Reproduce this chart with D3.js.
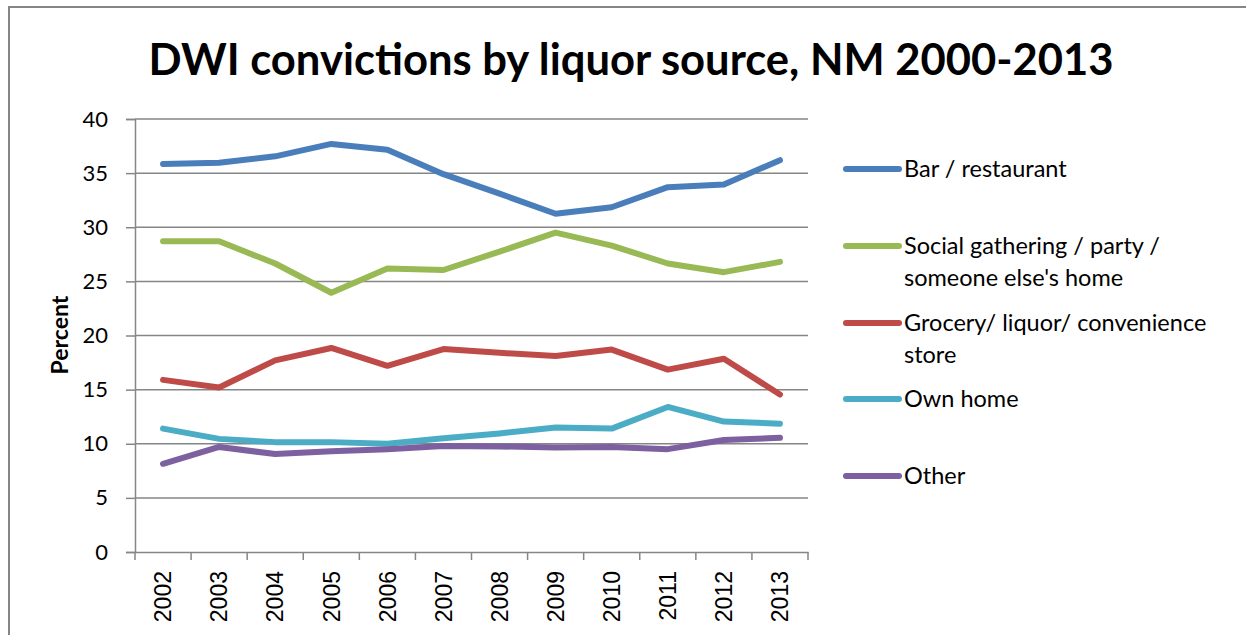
<!DOCTYPE html>
<html>
<head>
<meta charset="utf-8">
<script src="https://cdn.jsdelivr.net/npm/d3@7"></script>
<style>
  body { margin: 0; background: #fff; }
  svg { display: block; }
</style>
</head>
<body>
<script>
// chart data
var years = ["2002", "2003", "2004", "2005", "2006", "2007", "2008", "2009", "2010", "2011", "2012", "2013"];
var seriesNames = ["Bar / restaurant", "Social gathering / party / someone else's home", "Grocery/ liquor/ convenience store", "Own home", "Other"];
var barRestaurant = [35.85, 35.95, 36.55, 37.7, 37.15, 34.9, 33.1, 31.25, 31.85, 33.7, 33.95, 36.2];
var socialGathering = [28.7, 28.7, 26.65, 23.95, 26.2, 26.05, 27.75, 29.5, 28.3, 26.65, 25.85, 26.8];
var groceryLiquor = [15.9, 15.2, 17.7, 18.85, 17.2, 18.75, 18.4, 18.1, 18.7, 16.85, 17.85, 14.55];
var ownHome = [11.4, 10.45, 10.15, 10.15, 10.0, 10.5, 10.95, 11.5, 11.4, 13.4, 12.05, 11.85];
var other = [8.15, 9.7, 9.05, 9.3, 9.5, 9.8, 9.75, 9.65, 9.7, 9.5, 10.35, 10.55];
var yTicks = [0, 5, 10, 15, 20, 25, 30, 35, 40];

var colors = ["#4a7ebb", "#98b954", "#be4b48", "#4bacc6", "#7d60a0"];
var legendLines = [["Bar / restaurant"], ["Social gathering / party /", "someone else's home"], ["Grocery/ liquor/ convenience", "store"], ["Own home"], ["Other"]];

var series = [barRestaurant, socialGathering, groceryLiquor, ownHome, other].map(function(v, i) {
  return { name: seriesNames[i], values: v, color: colors[i], lines: legendLines[i] };
});

var W = 1246, H = 635;
var plot = { left: 135, top: 119, right: 808, bottom: 552 };

var svg = d3.select("body").append("svg")
  .attr("width", W)
  .attr("height", H);

// outer chart border
svg.append("rect")
  .attr("x", 9).attr("y", 7)
  .attr("width", W + 20).attr("height", H + 20)
  .attr("fill", "#fff")
  .attr("stroke", "#868686")
  .attr("stroke-width", 2);

var x = d3.scaleBand().domain(years).range([plot.left, plot.right]);
var y = d3.scaleLinear().domain([0, 40]).range([plot.bottom, plot.top]);

// title
svg.append("text")
  .attr("x", 631).attr("y", 75)
  .attr("text-anchor", "middle")
  .style("font-family", "Lato, 'Open Sans', sans-serif")
  .style("font-weight", "bold")
  .style("font-size", "43px")
  .attr("textLength", 965)
  .attr("lengthAdjust", "spacingAndGlyphs")
  .text("DWI convictions by liquor source, NM 2000-2013");

// gridlines
svg.append("g")
  .selectAll("line")
  .data(yTicks.filter(function(d) { return d > 0; }))
  .enter().append("line")
    .attr("x1", plot.left).attr("x2", plot.right)
    .attr("y1", function(d) { return y(d); })
    .attr("y2", function(d) { return y(d); })
    .attr("stroke", "#868686")
    .attr("stroke-width", 1.5);

// y axis
var yAxis = svg.append("g")
  .attr("transform", "translate(" + plot.left + ",0)")
  .call(d3.axisLeft(y).tickValues(yTicks).tickSize(9).tickPadding(18));
yAxis.select(".domain").attr("stroke", "#868686").attr("stroke-width", 1.5);
yAxis.selectAll(".tick line").attr("stroke", "#868686").attr("stroke-width", 1.5);
yAxis.selectAll(".tick text")
  .style("font-family", "Lato, sans-serif")
  .style("font-size", "22px")
  .attr("fill", "#000");

// x axis
var xAxis = svg.append("g")
  .attr("transform", "translate(0," + plot.bottom + ")")
  .call(d3.axisBottom(x).tickSize(0));
xAxis.select(".domain").attr("stroke", "#868686").attr("stroke-width", 1.5);
xAxis.selectAll(".tick text")
  .attr("transform", "rotate(-90)")
  .attr("x", -19).attr("y", 0).attr("dy", "0.36em")
  .style("text-anchor", "end")
  .style("font-family", "'Liberation Sans', Arial, sans-serif")
  .style("font-size", "23px")
  .attr("fill", "#000");

// category boundary ticks
svg.append("g")
  .selectAll("line")
  .data(years.concat(["end"]))
  .enter().append("line")
    .attr("x1", function(d, i) { return plot.left + i * x.bandwidth(); })
    .attr("x2", function(d, i) { return plot.left + i * x.bandwidth(); })
    .attr("y1", plot.bottom).attr("y2", plot.bottom + 8)
    .attr("stroke", "#868686")
    .attr("stroke-width", 1.5);

// y axis title
svg.append("text")
  .attr("transform", "translate(68,335) rotate(-90)")
  .attr("text-anchor", "middle")
  .style("font-family", "Lato, sans-serif")
  .style("font-weight", "bold")
  .style("font-size", "23px")
  .text("Percent");

// lines
var line = d3.line()
  .x(function(d, i) { return x(years[i]) + x.bandwidth() / 2; })
  .y(function(d) { return y(d); });

svg.append("g")
  .selectAll("path")
  .data(series)
  .enter().append("path")
    .attr("d", function(d) { return line(d.values); })
    .attr("fill", "none")
    .attr("stroke", function(d) { return d.color; })
    .attr("stroke-width", 6)
    .attr("stroke-linejoin", "round")
    .attr("stroke-linecap", "round");

// legend
var legendY = [169, 246, 323, 399, 476];
var legend = svg.append("g")
  .selectAll("g")
  .data(series)
  .enter().append("g")
    .attr("transform", function(d, i) { return "translate(0," + legendY[i] + ")"; });

legend.append("line")
  .attr("x1", 846).attr("x2", 899)
  .attr("y1", 0).attr("y2", 0)
  .attr("stroke", function(d) { return d.color; })
  .attr("stroke-width", 6)
  .attr("stroke-linecap", "round");

legend.append("text")
  .style("font-family", "Lato, sans-serif")
  .style("font-size", "23.5px")
  .attr("fill", "#000")
  .selectAll("tspan")
  .data(function(d) { return d.lines; })
  .enter().append("tspan")
    .attr("x", 904)
    .attr("y", function(d, i) { return i * 31.5; })
    .attr("dy", "0.36em")
    .text(function(d) { return d; });
</script>
</body>
</html>
